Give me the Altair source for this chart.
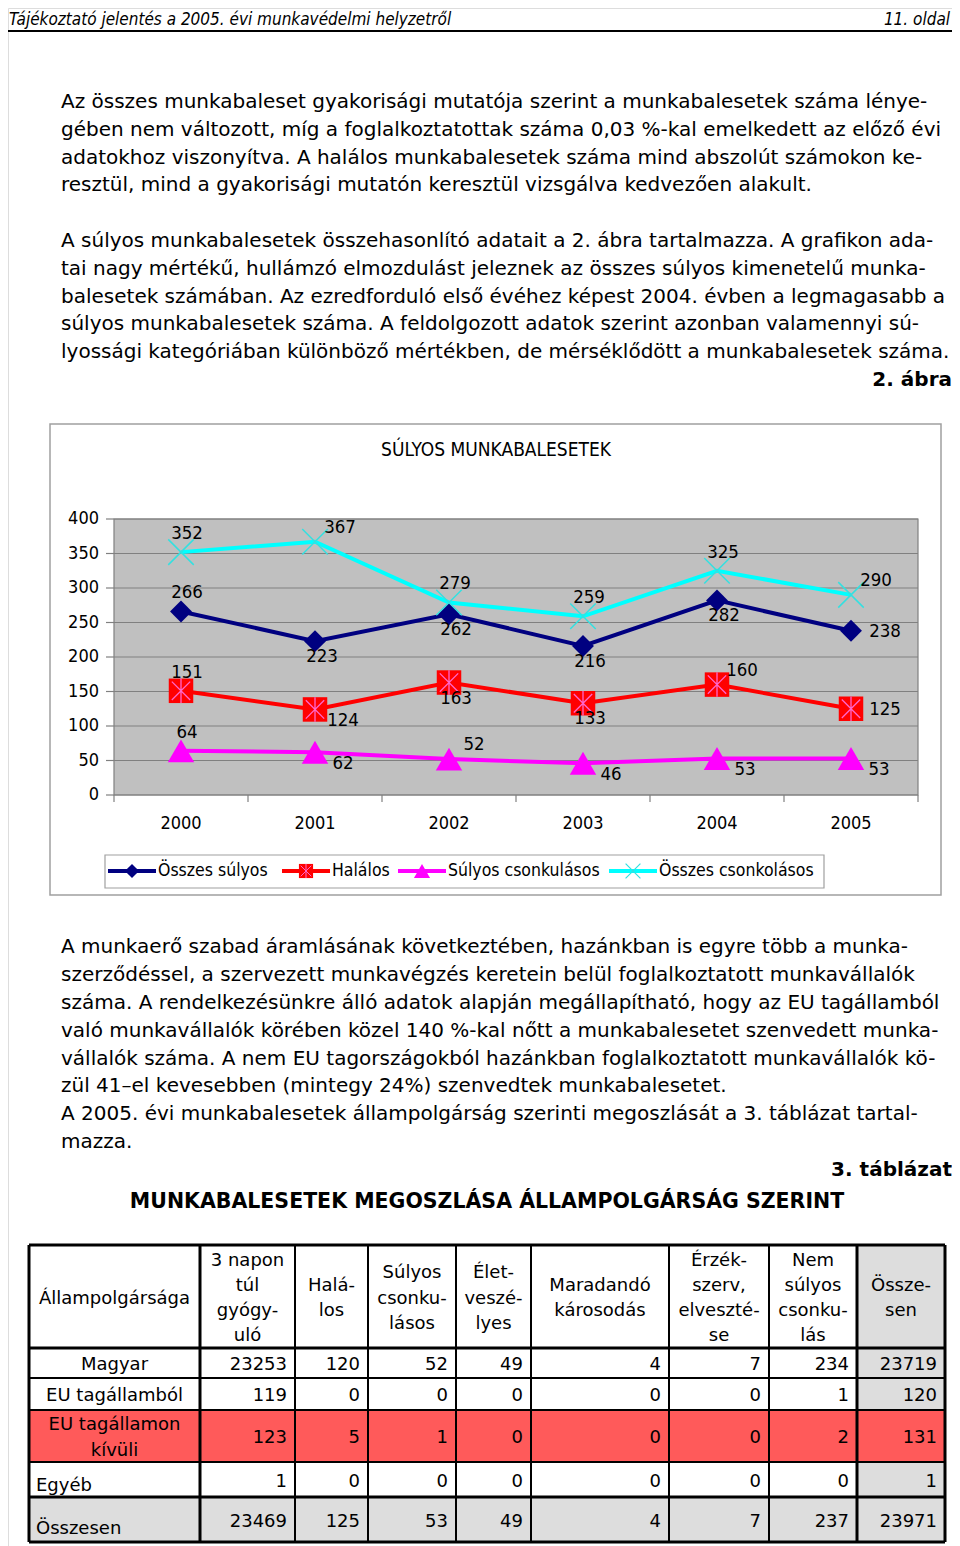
import altair as alt
import pandas as pd

M = 8  # page margin of the html body


def px(v):
    return v - M


FONT_BODY = "DejaVu Sans"
FONT_CHART = "DejaVu Sans Condensed"

# ---------------------------------------------------------------- data
years = [2000, 2001, 2002, 2003, 2004, 2005]
series_names = ["Összes súlyos", "Halálos", "Súlyos csonkulásos", "Összes csonkolásos"]
series_colors = ["#000080", "#FF0000", "#FF00FF", "#00FFFF"]
osszes_sulyos = [266, 223, 262, 216, 282, 238]
halalos = [151, 124, 163, 133, 160, 125]
sulyos_csonkulasos = [64, 62, 52, 46, 53, 53]
osszes_csonkolasos = [352, 367, 279, 259, 325, 290]
y_ticks = [0, 50, 100, 150, 200, 250, 300, 350, 400]

label_places = {
    "Összes súlyos": ["above", "below", "below", "below", "below", "right"],
    "Halálos": ["above", "below-right", "below", "below", "above-right", "right"],
    "Súlyos csonkulásos": ["above", "below-right", "above-right", "below-right", "below-right", "below-right"],
    "Összes csonkolásos": ["above", "above-right", "above", "above", "above", "above-right"],
}
place_offsets = {"above": (6, -19), "below": (7, 15), "right": (34, 0),
                 "above-right": (25, -15), "below-right": (28, 11)}

header_left = "Tájékoztató jelentés a 2005. évi munkavédelmi helyzetről"
header_right = "11. oldal"

block1_lines = [
    (0, "Az összes munkabaleset gyakorisági mutatója szerint a munkabalesetek száma lénye-"),
    (1, "gében nem változott, míg a foglalkoztatottak száma 0,03 %-kal emelkedett az előző évi"),
    (2, "adatokhoz viszonyítva. A halálos munkabalesetek száma mind abszolút számokon ke-"),
    (3, "resztül, mind a gyakorisági mutatón keresztül vizsgálva kedvezően alakult."),
    (5, "A súlyos munkabalesetek összehasonlító adatait a 2. ábra tartalmazza. A grafikon ada-"),
    (6, "tai nagy mértékű, hullámzó elmozdulást jeleznek az összes súlyos kimenetelű munka-"),
    (7, "balesetek számában. Az ezredforduló első évéhez képest 2004. évben a legmagasabb a"),
    (8, "súlyos munkabalesetek száma. A feldolgozott adatok szerint azonban valamennyi sú-"),
    (9, "lyossági kategóriában különböző mértékben, de mérséklődött a munkabalesetek száma."),
]
block1_caption = (10, "2. ábra")

block2_lines = [
    (0, "A munkaerő szabad áramlásának következtében, hazánkban is egyre több a munka-"),
    (1, "szerződéssel, a szervezett munkavégzés keretein belül foglalkoztatott munkavállalók"),
    (2, "száma. A rendelkezésünkre álló adatok alapján megállapítható, hogy az EU tagállamból"),
    (3, "való munkavállalók körében közel 140 %-kal nőtt a munkabalesetet szenvedett munka-"),
    (4, "vállalók száma. A nem EU tagországokból hazánkban foglalkoztatott munkavállalók kö-"),
    (5, "zül 41–el kevesebben (mintegy 24%) szenvedtek munkabalesetet."),
    (6, "A 2005. évi munkabalesetek állampolgárság szerinti megoszlását a 3. táblázat tartal-"),
    (7, "mazza."),
]
block2_caption = (8, "3. táblázat")
chart_title = "SÚLYOS MUNKABALESETEK"
table_title = "MUNKABALESETEK MEGOSZLÁSA ÁLLAMPOLGÁRSÁG SZERINT"

col_headers = [["Állampolgársága"], ["3 napon", "túl", "gyógy-", "uló"], ["Halá-", "los"],
               ["Súlyos", "csonku-", "lásos"], ["Élet-", "veszé-", "lyes"], ["Maradandó", "károsodás"],
               ["Érzék-", "szerv,", "elveszté-", "se"], ["Nem", "súlyos", "csonku-", "lás"],
               ["Össze-", "sen"]]
row_labels = [["Magyar"], ["EU tagállamból"], ["EU tagállamon", "kívüli"], ["Egyéb"], ["Összesen"]]
table_values = [
    [23253, 120, 52, 49, 4, 7, 234, 23719],
    [119, 0, 0, 0, 0, 0, 1, 120],
    [123, 5, 1, 0, 0, 0, 2, 131],
    [1, 0, 0, 0, 0, 0, 0, 1],
    [23469, 125, 53, 49, 4, 7, 237, 23971],
]

# ---------------------------------------------------------------- layout / style
col_edges = [29, 200, 295, 368, 456, 531, 669, 769, 857, 945]
row_edges = [1245, 1348, 1378, 1410, 1462, 1497, 1542]
left_rows = {"Egyéb": 6, "Összesen": 9}
HDR_LH = 25.3
ROW_LH = 26
RED_FILL = "#FF5A5A"
GRAY_FILL = "#DDDDDD"
BODY_SIZE = 20

one = pd.DataFrame({"k": [0]})

# ---------------------------------------------------------------- header
header = alt.layer(
    alt.Chart(one).mark_text(align="left", baseline="middle", font=FONT_CHART,
                             fontStyle="italic", fontSize=17, color="black")
    .encode(x=alt.value(px(9)), y=alt.value(px(20)), text=alt.value(header_left)),
    alt.Chart(one).mark_text(align="right", baseline="middle", font=FONT_CHART,
                             fontStyle="italic", fontSize=17, color="black")
    .encode(x=alt.value(px(950)), y=alt.value(px(20)), text=alt.value(header_right)),
    alt.Chart(one).mark_rule(color="black", strokeWidth=2)
    .encode(x=alt.value(px(8)), x2=alt.value(px(956)), y=alt.value(px(31))),
)

# ---------------------------------------------------------------- text blocks


def text_block(lines, caption, y0, y1, n):
    df = pd.DataFrame(lines, columns=["line", "txt"])
    dcap = pd.DataFrame([caption], columns=["line", "txt"])
    ys = alt.Scale(domain=[0, n], range=[px(y0), px(y1)], nice=False, zero=False)
    body = alt.Chart(df).mark_text(align="left", baseline="middle", font=FONT_BODY,
                                   fontSize=BODY_SIZE, color="black").encode(
        x=alt.value(px(61)), y=alt.Y("line:Q", scale=ys, axis=None), text="txt:N")
    cap = alt.Chart(dcap).mark_text(align="right", baseline="middle", font=FONT_BODY,
                                    fontSize=BODY_SIZE, fontWeight="bold", color="black").encode(
        x=alt.value(px(952)), y=alt.Y("line:Q", scale=ys, axis=None), text="txt:N")
    return alt.layer(body, cap)


block1 = text_block(block1_lines, block1_caption, 102, 380, 10)
block2 = text_block(block2_lines, block2_caption, 947, 1170, 8)

table_heading = alt.Chart(one).mark_text(
    align="center", baseline="middle", font=FONT_BODY, fontSize=20.5, fontWeight="bold",
    color="black").encode(x=alt.value(px(487)), y=alt.value(px(1202)), text=alt.value(table_title))

# ---------------------------------------------------------------- line chart
rows = []
for name, vals in zip(series_names, [osszes_sulyos, halalos, sulyos_csonkulasos, osszes_csonkolasos]):
    for yr, v, pl in zip(years, vals, label_places[name]):
        rows.append({"series": name, "year": yr, "value": v, "place": pl})
df = pd.DataFrame(rows)

xs = alt.Scale(domain=[years[0] - 0.5, years[-1] + 0.5], range=[px(114), px(918)], nice=False, zero=False)
ysc = alt.Scale(domain=[y_ticks[0], y_ticks[-1]], range=[px(795), px(519)], nice=False, zero=False)
color = alt.Color("series:N", scale=alt.Scale(domain=series_names, range=series_colors), legend=None)

frame = alt.Chart(one).mark_rect(fill="white", stroke="#A0A0A0", strokeWidth=1.5).encode(
    x=alt.value(px(50)), x2=alt.value(px(941)), y=alt.value(px(424)), y2=alt.value(px(895)))

title = alt.Chart(one).mark_text(align="center", baseline="middle", font=FONT_CHART,
                                 fontSize=19, color="black").encode(
    x=alt.value(px(496)), y=alt.value(px(450)), text=alt.value(chart_title))

bg_df = pd.DataFrame({"x0": [years[0] - 0.5], "x1": [years[-1] + 0.5],
                      "y0": [y_ticks[0]], "y1": [y_ticks[-1]]})
plot_bg = alt.Chart(bg_df).mark_rect(fill="#C0C0C0", stroke="#808080", strokeWidth=1.2).encode(
    x=alt.X("x0:Q", scale=xs, axis=None), x2="x1:Q",
    y=alt.Y("y0:Q", scale=ysc, axis=None), y2="y1:Q")

grid_df = pd.DataFrame({"v": y_ticks, "x0": years[0] - 0.5, "x1": years[-1] + 0.5})
grid = alt.Chart(grid_df).mark_rule(color="#808080", strokeWidth=1.2).encode(
    x=alt.X("x0:Q", scale=xs, axis=None), x2="x1:Q", y=alt.Y("v:Q", scale=ysc, axis=None))
ytick_marks = alt.Chart(grid_df).mark_rule(color="#808080", strokeWidth=1.2).encode(
    x=alt.value(px(106)), x2=alt.value(px(114)), y=alt.Y("v:Q", scale=ysc, axis=None))
ylabels = alt.Chart(grid_df).mark_text(align="right", baseline="middle", font=FONT_CHART,
                                       fontSize=18, color="black").encode(
    x=alt.value(px(99)), y=alt.Y("v:Q", scale=ysc, axis=None), text="v:Q")

xb_df = pd.DataFrame({"b": [y - 0.5 for y in years] + [years[-1] + 0.5], "z": 0})
xtick_marks = alt.Chart(xb_df).mark_rule(color="#808080", strokeWidth=1.2).encode(
    x=alt.X("b:Q", scale=xs, axis=None), y=alt.Y("z:Q", scale=ysc, axis=None), y2=alt.value(px(802)))
xl_df = pd.DataFrame({"year": years})
xlabels = alt.Chart(xl_df).mark_text(align="center", baseline="middle", font=FONT_CHART,
                                     fontSize=18, color="black").encode(
    x=alt.X("year:Q", scale=xs, axis=None), y=alt.value(px(824)), text="year:N")

X = alt.X("year:Q", scale=xs, axis=None)
Y = alt.Y("value:Q", scale=ysc, axis=None)
base = alt.Chart(df)

lines = base.mark_line(strokeWidth=4).encode(x=X, y=Y, color=color, detail="series:N")

ASTER = "M-0.75,-0.75L0.75,0.75M0.75,-0.75L-0.75,0.75M0,-1L0,1"
XPATH = "M-1,-1L1,1M1,-1L-1,1"


def only(name):
    return alt.datum.series == name


m_diamond = base.transform_filter(only(series_names[0])).mark_point(
    shape="diamond", filled=True, size=480, opacity=1, color=series_colors[0]).encode(x=X, y=Y)
m_square = base.transform_filter(only(series_names[1])).mark_point(
    shape="square", filled=True, size=600, opacity=1, color=series_colors[1]).encode(x=X, y=Y)
m_aster = base.transform_filter(only(series_names[1])).mark_point(
    shape=ASTER, filled=False, size=600, opacity=1, color="#FF66CC", strokeWidth=1.3).encode(x=X, y=Y)
m_tri = base.transform_filter(only(series_names[2])).mark_point(
    shape="triangle-up", filled=True, size=700, opacity=1, color=series_colors[2]).encode(x=X, y=Y)
m_x = base.transform_filter(only(series_names[3])).mark_point(
    shape=XPATH, filled=False, size=650, opacity=1, color="#33E0E0", strokeWidth=1.5).encode(x=X, y=Y)

label_layers = []
for pl, (ddx, ddy) in place_offsets.items():
    label_layers.append(
        base.transform_filter(alt.datum.place == pl).mark_text(
            align="center", baseline="middle", font=FONT_CHART, fontSize=18.5, color="black",
            dx=ddx, dy=ddy).encode(x=X, y=Y, text="value:Q"))

# legend
leg_df = pd.DataFrame({"series": series_names, "i": list(range(len(series_names)))})
lx = alt.Scale(domain=list(range(len(series_names))), range=[px(132), px(306), px(422), px(633)],
               nice=False, zero=False)
LX = alt.X("i:Q", scale=lx, axis=None)
LY = alt.value(px(871))
lbase = alt.Chart(leg_df)
leg_box = alt.Chart(one).mark_rect(fill="white", stroke="#A0A0A0", strokeWidth=1.2).encode(
    x=alt.value(px(105)), x2=alt.value(px(824)), y=alt.value(px(855)), y2=alt.value(px(888)))
leg_lines = lbase.mark_point(shape="M-1,0L1,0", filled=False, size=48 * 48, opacity=1,
                             strokeWidth=4).encode(x=LX, y=LY, color=color)
leg_d = lbase.transform_filter(only(series_names[0])).mark_point(
    shape="diamond", filled=True, size=200, opacity=1, color=series_colors[0]).encode(x=LX, y=LY)
leg_s = lbase.transform_filter(only(series_names[1])).mark_point(
    shape="square", filled=True, size=200, opacity=1, color=series_colors[1]).encode(x=LX, y=LY)
leg_a = lbase.transform_filter(only(series_names[1])).mark_point(
    shape=ASTER, filled=False, size=200, opacity=1, color="#FF66CC", strokeWidth=1).encode(x=LX, y=LY)
leg_t = lbase.transform_filter(only(series_names[2])).mark_point(
    shape="triangle-up", filled=True, size=260, opacity=1, color=series_colors[2]).encode(x=LX, y=LY)
leg_x = lbase.transform_filter(only(series_names[3])).mark_point(
    shape=XPATH, filled=False, size=220, opacity=1, color="#33E0E0", strokeWidth=1.2).encode(x=LX, y=LY)
leg_txt = lbase.mark_text(align="left", baseline="middle", font=FONT_CHART, fontSize=17.5,
                          color="black", dx=26).encode(x=LX, y=LY, text="series:N")

chart_group = alt.layer(frame, title, plot_bg, grid, ytick_marks, ylabels, xtick_marks, xlabels,
                        lines, m_diamond, m_square, m_aster, m_tri, m_x, *label_layers)
legend_group = alt.layer(leg_box, leg_lines, leg_d, leg_s, leg_a, leg_t, leg_x, leg_txt)

# ---------------------------------------------------------------- table
tx = alt.Scale(type="linear", domain=list(range(len(col_edges))), range=[px(e) for e in col_edges],
               nice=False, zero=False)
ty = alt.Scale(type="linear", domain=list(range(len(row_edges))), range=[px(e) for e in row_edges],
               nice=False, zero=False)

ncol = len(col_headers)
nrow = len(row_labels) + 1
cells = []
for r in range(nrow):
    for c in range(ncol):
        if r == 3:
            f = "r"
        elif r == nrow - 1 or c == ncol - 1:
            f = "g"
        else:
            f = "w"
        cells.append({"c": c, "c1": c + 1, "r": r, "r1": r + 1, "f": f})
cells_df = pd.DataFrame(cells)
cell_rects = alt.Chart(cells_df).mark_rect().encode(
    x=alt.X("c:Q", scale=tx, axis=None), x2="c1:Q",
    y=alt.Y("r:Q", scale=ty, axis=None), y2="r1:Q",
    fill=alt.Fill("f:N", scale=alt.Scale(domain=["w", "g", "r"], range=["#FFFFFF", GRAY_FILL, RED_FILL]),
                  legend=None))

thick_cols = {0, 1, ncol - 1, ncol}
thick_rows = {0, 1, nrow - 1, nrow}
vlines = pd.DataFrame([{"c": c, "r0": 0, "r1": nrow, "t": c in thick_cols} for c in range(ncol + 1)])
hlines = pd.DataFrame([{"r": r, "c0": 0, "c1": ncol, "t": r in thick_rows} for r in range(nrow + 1)])


def vrule(thick):
    return alt.Chart(vlines).transform_filter(alt.datum.t == thick).mark_rule(
        color="black", strokeWidth=3 if thick else 2).encode(
        x=alt.X("c:Q", scale=tx, axis=None), y=alt.Y("r0:Q", scale=ty, axis=None), y2="r1:Q")


def hrule(thick):
    return alt.Chart(hlines).transform_filter(alt.datum.t == thick).mark_rule(
        color="black", strokeWidth=3 if thick else 2).encode(
        x=alt.X("c0:Q", scale=tx, axis=None), x2="c1:Q", y=alt.Y("r:Q", scale=ty, axis=None))


# header text: one record per text line, placed in row units around the header centre
hdr_h = row_edges[1] - row_edges[0]
hdr_rows = []
for c, parts in enumerate(col_headers):
    n = len(parts)
    for k, t in enumerate(parts):
        hdr_rows.append({"cm": c + 0.5, "rm": 0.5 + (k - (n - 1) / 2) * HDR_LH / hdr_h, "txt": t})
hdr_df = pd.DataFrame(hdr_rows)
hdr_text = alt.Chart(hdr_df).mark_text(align="center", baseline="middle", font=FONT_BODY,
                                       fontSize=18, color="black", dy=2).encode(
    x=alt.X("cm:Q", scale=tx, axis=None), y=alt.Y("rm:Q", scale=ty, axis=None), text="txt:N")

num_rows = []
for ri, vals in enumerate(table_values):
    for ci, v in enumerate(vals):
        num_rows.append({"ce": ci + 2, "rm": ri + 1.5, "v": v})
num_df = pd.DataFrame(num_rows)
nums = alt.Chart(num_df).mark_text(
    align="right", baseline="middle", font=FONT_BODY, fontSize=18, color="black",
    dx=-8, dy=2).encode(x=alt.X("ce:Q", scale=tx, axis=None),
                        y=alt.Y("rm:Q", scale=ty, axis=None), text="v:Q")

rl_rows = []
for ri, parts in enumerate(row_labels):
    n = len(parts)
    h = row_edges[ri + 2] - row_edges[ri + 1]
    for k, t in enumerate(parts):
        rl_rows.append({"rm": ri + 1.5 + (k - (n - 1) / 2) * ROW_LH / h, "txt": t,
                        "cm": 0.5, "c0": 0})
rl_df = pd.DataFrame(rl_rows)
left_names = list(left_rows.keys())
rl_center = alt.Chart(rl_df).transform_filter(
    {"not": alt.FieldOneOfPredicate(field="txt", oneOf=left_names)}).mark_text(
    align="center", baseline="middle", font=FONT_BODY, fontSize=18, color="black", dy=2).encode(
    x=alt.X("cm:Q", scale=tx, axis=None), y=alt.Y("rm:Q", scale=ty, axis=None), text="txt:N")
rl_left = []
for lab, ddy in left_rows.items():
    rl_left.append(alt.Chart(rl_df).transform_filter(alt.datum.txt == lab).mark_text(
        align="left", baseline="middle", font=FONT_BODY, fontSize=18, color="black",
        dx=7, dy=ddy).encode(x=alt.X("c0:Q", scale=tx, axis=None),
                             y=alt.Y("rm:Q", scale=ty, axis=None), text="txt:N"))

table_group = alt.layer(cell_rects, vrule(False), hrule(False), vrule(True), hrule(True),
                        hdr_text, nums, rl_center, *rl_left)

# ---------------------------------------------------------------- page
chart = alt.layer(header, block1, chart_group, legend_group, block2, table_heading, table_group).resolve_scale(
    x="independent", y="independent"
).properties(
    width=944, height=1538, padding=0, autosize=alt.AutoSizeParams(type="none")
).configure_view(stroke=None).configure(background="white")

chart.save("out.html", embed_options={"renderer": "svg", "actions": False})
